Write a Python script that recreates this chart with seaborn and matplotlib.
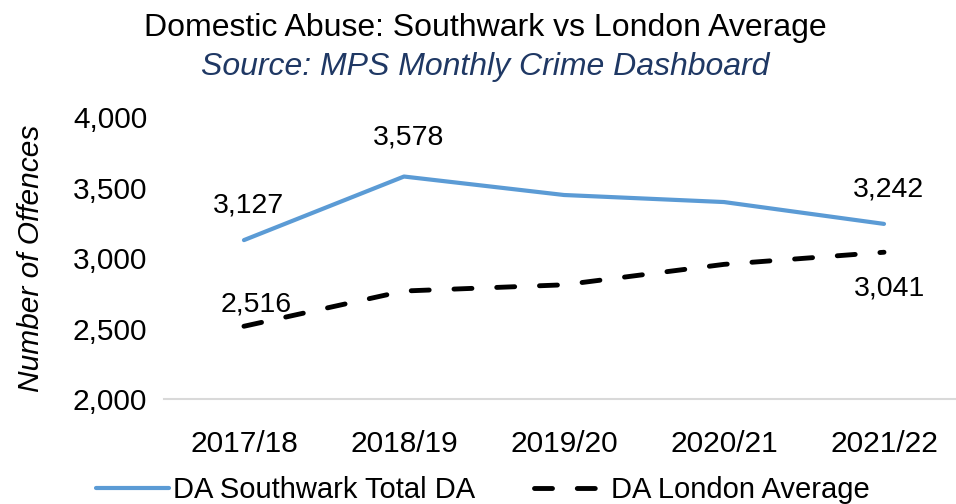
import numpy as np
import pandas as pd
import matplotlib
matplotlib.use("Agg")
import matplotlib.pyplot as plt
import seaborn as sns
from matplotlib.ticker import FuncFormatter

years = ["2017/18", "2018/19", "2019/20", "2020/21", "2021/22"]
southwark = [3127, 3578, 3447, 3397, 3242]
london = [2516, 2766, 2810, 2955, 3041]

# which points get a label, and where (offset in points)
southwark_labels = {0: (3, 25), 1: (3, 28), 4: (3, 25)}
london_labels = {0: (9, 16), 4: (4, -26)}

sns.set_theme(style="white")
plt.rcParams["font.family"] = ["Liberation Sans", "DejaVu Sans"]
plt.rcParams["text.color"] = "black"
plt.rcParams["axes.labelcolor"] = "black"
plt.rcParams["xtick.color"] = "black"
plt.rcParams["ytick.color"] = "black"

fig = plt.figure(figsize=(9.56, 5.04), dpi=100)
ax = fig.add_axes([0.1715, 0.2083, 0.8285, 0.5595])

df = pd.DataFrame({"year": years, "southwark": southwark, "london": london})

sns.lineplot(data=df, x="year", y="southwark", color="#5B9BD5", linewidth=3,
             label="DA Southwark Total DA", ax=ax, sort=False)
sns.lineplot(data=df, x="year", y="london", color="black", linewidth=3.5,
             label="DA London Average", ax=ax, sort=False)
ax.lines[1].set_dashes((3.7, 5.1))
ax.lines[1].set_dash_capstyle("round")
ax.lines[0].set_solid_capstyle("round")

for i, (dx, dy) in southwark_labels.items():
    ax.annotate(f"{southwark[i]:,}", (i, southwark[i]), xytext=(dx, dy),
                textcoords="offset points", ha="center", va="center", fontsize=20.5)
for i, (dx, dy) in london_labels.items():
    ax.annotate(f"{london[i]:,}", (i, london[i]), xytext=(dx, dy),
                textcoords="offset points", ha="center", va="center", fontsize=20.5)

ax.set_ylim(2000, 4000)
ax.set_yticks([2000, 2500, 3000, 3500, 4000])
ax.yaxis.set_major_formatter(FuncFormatter(lambda v, p: f"{int(v):,}"))
ax.set_xlim(-0.5, 4.45)
ax.tick_params(axis="both", length=0, labelsize=21.5)
ax.tick_params(axis="x", pad=22)
ax.tick_params(axis="y", pad=12)
ax.set_xlabel("")
ax.set_ylabel("Number of Offences", fontsize=21.5, style="italic", labelpad=20)

for s in ["left", "right", "top"]:
    ax.spines[s].set_visible(False)
ax.spines["bottom"].set_color("#D9D9D9")
ax.spines["bottom"].set_linewidth(1.5)

fig.text(0.508, 0.944, "Domestic Abuse: Southwark vs London Average",
         ha="center", va="center", fontsize=23, color="black")
fig.text(0.508, 0.868, "Source: MPS Monthly Crime Dashboard",
         ha="center", va="center", fontsize=23, color="#1F3864", style="italic")

ax.legend(loc="center", bbox_to_anchor=(0.505, 0.027), bbox_transform=fig.transFigure,
          ncol=2, frameon=False, fontsize=21, handlelength=2.5, handletextpad=0.15,
          columnspacing=2.0)

fig.savefig("out.png", dpi=100)
